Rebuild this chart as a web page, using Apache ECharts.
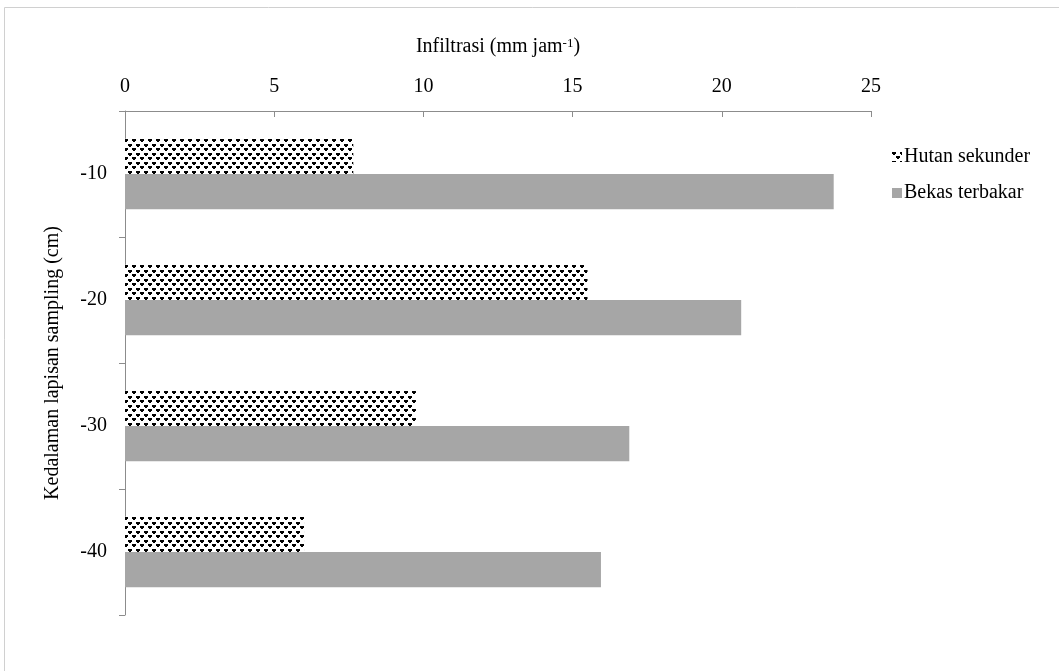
<!DOCTYPE html>
<html>
<head>
<meta charset="utf-8">
<script src="https://cdn.jsdelivr.net/npm/echarts@6/dist/echarts.min.js"></script>
<style>
html,body{margin:0;padding:0;background:#fff;}
#chart{width:1059px;height:671px;}
</style>
</head>
<body>
<div id="chart"></div>
<script>
const categories = ['-10', '-20', '-30', '-40'];
const hutanSekunder = [7.65, 15.5, 9.75, 6.0];
const bekasTerbakar = [23.75, 20.65, 16.9, 15.95];
const seriesNames = ['Hutan sekunder', 'Bekas terbakar'];

function makePattern() {
  const c = document.createElement('canvas');
  c.width = 8; c.height = 9;
  const g = c.getContext('2d');
  g.fillStyle = '#fff';
  g.fillRect(0, 0, 8, 9);
  g.fillStyle = '#000';
  g.fillRect(0, 0, 4, 2);
  g.fillRect(1, 2, 2, 1);
  g.fillRect(4, 4, 4, 2);
  g.fillRect(5, 6, 2, 1);
  return c;
}
const pattern = { image: makePattern(), repeat: 'repeat' };

const font = 'Liberation Serif, Times New Roman, serif';
const chart = echarts.init(document.getElementById('chart'));
chart.setOption({
  animation: false,
  backgroundColor: '#fff',
  textStyle: { fontFamily: font },
  graphic: [{
    type: 'rect',
    shape: { x: 4.5, y: 7.5, width: 1200, height: 800 },
    style: { fill: 'none', stroke: '#d0d0d0', lineWidth: 1 },
    silent: true
  }],
  grid: { left: 125, top: 111, right: 188, bottom: 56 },
  legend: {
    orient: 'vertical',
    left: 887,
    top: 142,
    itemWidth: 10,
    itemHeight: 10,
    itemGap: 16,
    icon: 'rect',
    textStyle: { fontFamily: font, fontSize: 20, color: '#000', padding: [0, 0, 0, -3] },
    data: seriesNames
  },
  xAxis: {
    type: 'value',
    position: 'top',
    min: 0, max: 25, interval: 5,
    name: 'Infiltrasi (mm jam{sup|-1})',
    nameLocation: 'middle',
    nameGap: 54,
    nameTextStyle: {
      fontFamily: font, fontSize: 20, color: '#000',
      rich: { sup: { fontFamily: font, fontSize: 13, color: '#000', verticalAlign: 'top', lineHeight: 13, padding: [0, 0, 9, 0] } }
    },
    axisLine: { show: true, lineStyle: { color: '#8c8c8c', width: 1 } },
    axisTick: { show: true, inside: true, length: 6, lineStyle: { color: '#8c8c8c' } },
    axisLabel: { fontFamily: font, fontSize: 20, color: '#000', margin: 14 },
    splitLine: { show: false }
  },
  yAxis: {
    type: 'category',
    inverse: true,
    data: categories,
    name: 'Kedalaman lapisan sampling (cm)',
    nameLocation: 'middle',
    nameRotate: 90,
    nameGap: 62,
    nameTextStyle: { fontFamily: font, fontSize: 20, color: '#000' },
    axisLine: { show: true, lineStyle: { color: '#8c8c8c', width: 1 } },
    axisTick: { show: true, alignWithLabel: false, length: 6, lineStyle: { color: '#8c8c8c' } },
    axisLabel: { fontFamily: font, fontSize: 20, color: '#000', margin: 18 },
    splitLine: { show: false }
  },
  series: [
    {
      name: seriesNames[0],
      type: 'bar',
      data: hutanSekunder,
      barGap: '0%',
      barCategoryGap: '44%',
      itemStyle: { color: pattern }
    },
    {
      name: seriesNames[1],
      type: 'bar',
      data: bekasTerbakar,
      barGap: '0%',
      barCategoryGap: '44%',
      itemStyle: { color: '#a6a6a6' }
    }
  ]
});
</script>
</body>
</html>
